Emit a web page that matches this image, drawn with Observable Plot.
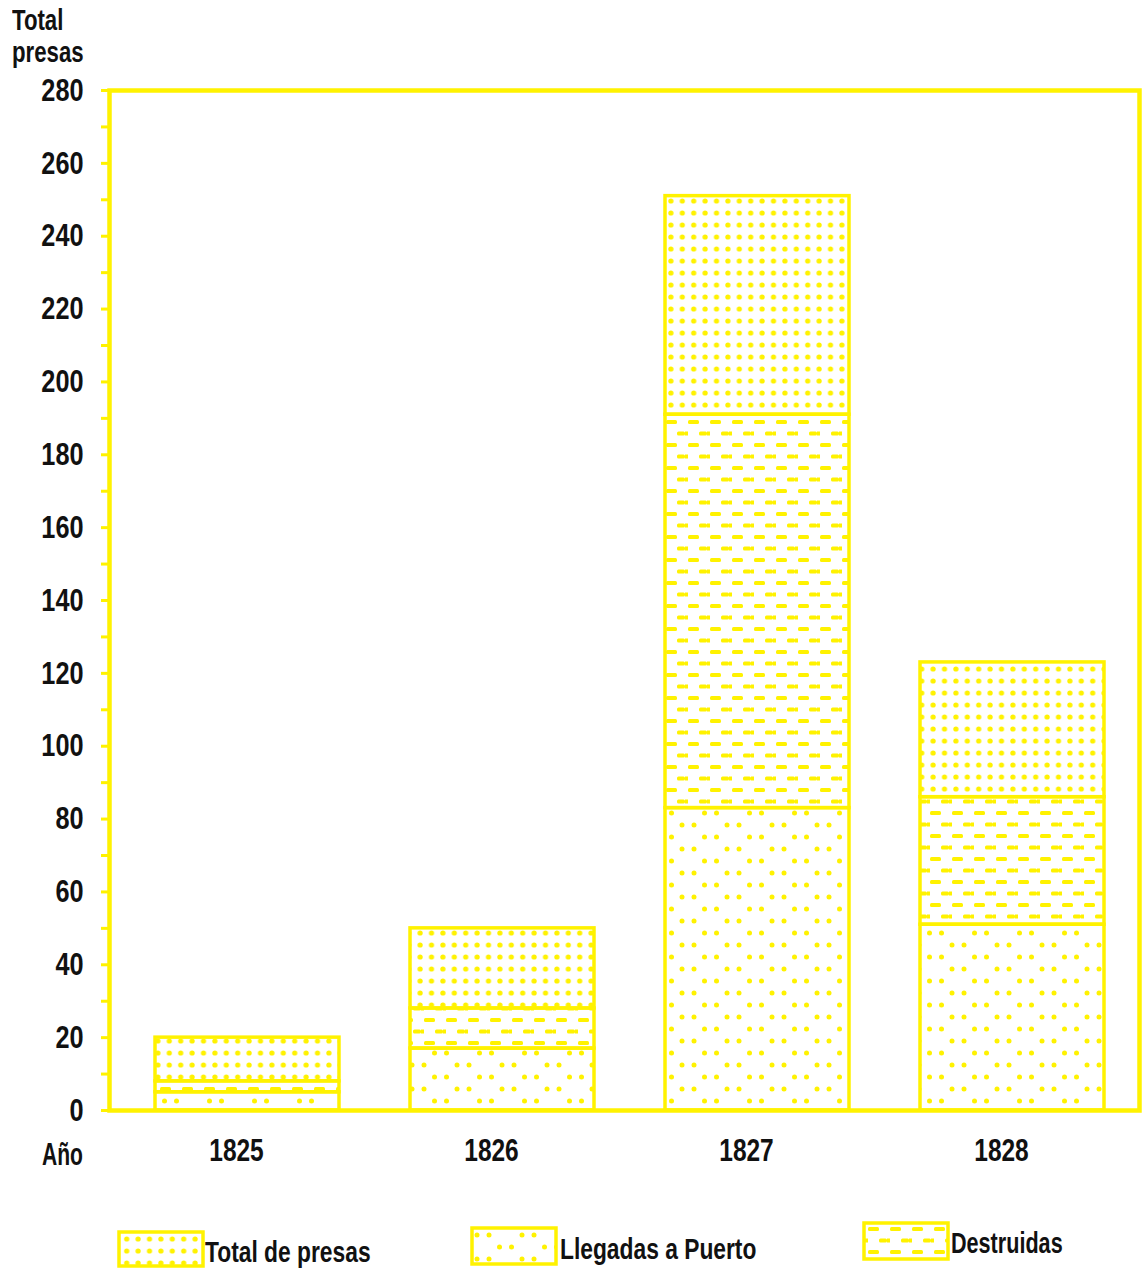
<!DOCTYPE html>
<html>
<head>
<meta charset="utf-8">
<script src="https://cdn.jsdelivr.net/npm/d3@7"></script>
<script src="https://cdn.jsdelivr.net/npm/@observablehq/plot@0.6"></script>
<style>
  html, body { margin: 0; padding: 0; background: #fff; }
  body { width: 1143px; height: 1270px; position: relative; overflow: hidden;
         font-family: "Liberation Sans", Arial, sans-serif;
         font-weight: bold; color: #111; }
  .cond { display: inline-block; transform-origin: 0 0; white-space: nowrap; }
  #title { position: absolute; left: 12px; top: 4px; font-size: 30px; line-height: 32px; transform: scaleX(0.74); }
  #anio { position: absolute; left: 42px; top: 1137px; font-size: 31px; transform: scaleX(0.68); }
  #chart { position: absolute; left: 0; top: 0; }
  .leg { position: absolute; display: flex; align-items: center; font-size: 30px; }
  .leg svg { display: block; flex: none; }
  .leg span { display: inline-block; transform: scaleX(0.76); transform-origin: 0 50%; white-space: nowrap; }
</style>
</head>
<body>
<svg width="0" height="0" style="position:absolute">
  <defs>
    <pattern id="pDense" patternUnits="userSpaceOnUse" width="11.4" height="12" x="4" y="3">
      <circle cx="5.7" cy="6" r="2.6" fill="#fff200"/>
    </pattern>
    <pattern id="pSparse" patternUnits="userSpaceOnUse" width="45" height="24" x="2" y="4">
      <circle cx="5" cy="5" r="2.5" fill="#fff200"/>
      <circle cx="17" cy="5" r="2.5" fill="#fff200"/>
      <circle cx="27.5" cy="17" r="2.5" fill="#fff200"/>
      <circle cx="39.5" cy="17" r="2.5" fill="#fff200"/>
    </pattern>
    <pattern id="pDash" patternUnits="userSpaceOnUse" width="22" height="23" x="3" y="2">
      <rect x="3" y="4" width="11" height="4" rx="1.5" fill="#fff200"/>
      <rect x="14" y="15.5" width="8" height="4" rx="1.5" fill="#fff200"/>
      <rect x="0" y="15.5" width="3" height="4" fill="#fff200"/>
    </pattern>
  </defs>
</svg>

<div id="title" class="cond">Total<br>presas</div>
<div id="chart"></div>
<div id="anio" class="cond">Año</div>

<div class="leg" style="left:117px; top:1229px;">
  <svg width="88" height="38"><rect x="2" y="2" width="84" height="34" fill="url(#pDense)" stroke="#fff200" stroke-width="3.5"/></svg>
  <span style="margin-left:0px; margin-top:6px;">Total de presas</span>
</div>
<div class="leg" style="left:470px; top:1226px;">
  <svg width="88" height="40"><rect x="2" y="2" width="84" height="36" fill="url(#pSparse)" stroke="#fff200" stroke-width="3.5"/></svg>
  <span style="margin-left:2px; margin-top:6px;">Llegadas a Puerto</span>
</div>
<div class="leg" style="left:862px; top:1221px;">
  <svg width="88" height="40"><rect x="2" y="2" width="84" height="36" fill="url(#pDash)" stroke="#fff200" stroke-width="3.5"/></svg>
  <span style="margin-left:1px; margin-top:4px; transform: scaleX(0.72);">Destruidas</span>
</div>

<script>
// Data
const years = ["1825", "1826", "1827", "1828"];
const totalPresas = [20, 50, 251, 123];      // full bar height
const llegadasPuerto = [5, 17, 83, 51];      // bottom segment
const destruidas = [3, 11, 108, 35];         // middle segment (stacked on Llegadas)
const yTicks = [0, 20, 40, 60, 80, 100, 120, 140, 160, 180, 200, 220, 240, 260, 280];

const YELLOW = "#fff200";

const rows = years.map((y, i) => ({
  year: y,
  total: totalPresas[i],
  llegadas: llegadasPuerto[i],
  destEnd: llegadasPuerto[i] + destruidas[i]
}));

const chart = Plot.plot({
  width: 1143,
  height: 1190,
  marginLeft: 109,
  marginRight: 4,
  marginTop: 90,
  marginBottom: 80,
  style: {
    fontFamily: '"Liberation Sans", Arial, sans-serif',
    fontWeight: "bold",
    background: "transparent"
  },
  x: {domain: years, paddingInner: 0.28, paddingOuter: 0.158, align: 0.57, axis: null, label: null},
  y: {domain: [0, 280], axis: null, label: null},
  marks: [
    // top segment: Total de presas
    Plot.rectY(rows, {x: "year", y1: "destEnd", y2: "total", fill: "url(#pDense)", stroke: YELLOW, strokeWidth: 3.5}),
    // middle: Destruidas
    Plot.rectY(rows, {x: "year", y1: "llegadas", y2: "destEnd", fill: "url(#pDash)", stroke: YELLOW, strokeWidth: 3.5}),
    // bottom: Llegadas a Puerto
    Plot.rectY(rows, {x: "year", y1: 0, y2: "llegadas", fill: "url(#pSparse)", stroke: YELLOW, strokeWidth: 3.5}),
    // minor ticks every 10
    Plot.axisY({ticks: d3.range(0, 281, 10), tickSize: 8, tickFormat: () => "", stroke: YELLOW, strokeWidth: 3, label: null}),
    // labels every 20
    Plot.axisY({ticks: yTicks, tickSize: 0, tickPadding: 26, fontSize: 32, fill: "#111", fontWeight: "bold", label: null}),
    Plot.axisX({tickSize: 0, tickPadding: 28, dx: -11, fontSize: 31, fill: "#111", fontWeight: "bold", label: null}),
    Plot.frame({stroke: YELLOW, strokeWidth: 4.5})
  ]
});
// condense the tick label glyphs horizontally (the reference uses a condensed face)
d3.select(chart).selectAll("text").each(function() {
  const t = this.getAttribute("transform") || "";
  this.setAttribute("transform", t + " scale(0.79,1)");
});
document.getElementById("chart").appendChild(chart);
</script>
</body>
</html>
